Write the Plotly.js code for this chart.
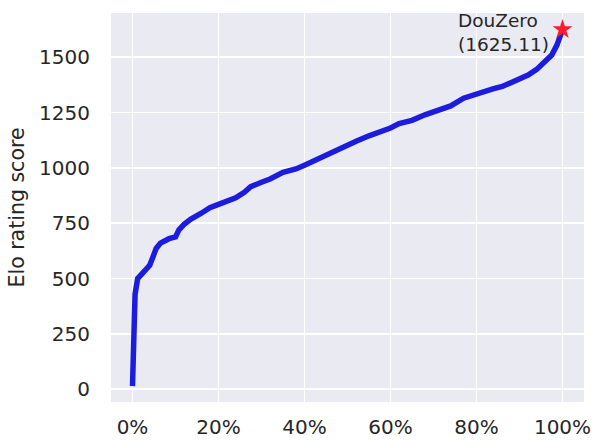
<!DOCTYPE html>
<html><head><meta charset="utf-8">
<script src="https://cdn.plot.ly/plotly-3.0.1.min.js"></script>
<style>html,body{margin:0;padding:0;background:#fff}#c{width:596px;height:440px}</style>
</head><body><div id="c"></div>
<script>
const percentile = [0, 0.3, 0.6, 1.2, 2.5, 4, 4.8, 5.5, 6.5, 8.5, 10, 10.8, 12, 13.5, 16, 18, 20, 22, 24, 26, 27.5, 30, 32, 35, 38, 40, 43.5, 47, 50, 52, 55, 58, 60, 62, 65, 68, 71, 74, 77, 80, 82, 84, 86, 88, 90, 92, 94, 96, 97.5, 98.7, 99.5, 100];
const elo = [14, 200, 430, 500, 530, 560, 600, 636, 660, 680, 688, 720, 745, 768, 795, 820, 835, 850, 865, 890, 915, 935, 950, 980, 995, 1012, 1045, 1075, 1105, 1120, 1145, 1165, 1180, 1200, 1215, 1240, 1260, 1280, 1315, 1335, 1348, 1358, 1368, 1385, 1400, 1420, 1445, 1480, 1510, 1555, 1600, 1625.11];
const starX = [100];
const starY = [1625.11];
const starLabel = 'DouZero<br>(1625.11)';
const xTicks = [0, 20, 40, 60, 80, 100];
const xTickText = ['0%', '20%', '40%', '60%', '80%', '100%'];
const yTicks = [0, 250, 500, 750, 1000, 1250, 1500];

const font = {family: 'DejaVu Sans', size: 20, color: '#262626'};
Plotly.newPlot('c', [
  {x: percentile, y: elo, mode: 'lines', line: {color: 'rgb(28,28,222)', width: 5.5}, hoverinfo: 'skip'},
  {x: starX, y: starY, mode: 'markers', marker: {symbol: 'star', color: '#ff1a2e', size: 15, line: {width: 0}}}
], {
  width: 596, height: 440,
  margin: {l: 111, r: 12, t: 13, b: 38},
  paper_bgcolor: '#ffffff', plot_bgcolor: '#EAEAF2',
  showlegend: false,
  font: font,
  xaxis: {range: [-5, 105], tickvals: xTicks, ticktext: xTickText, showgrid: true, gridcolor: '#ffffff', gridwidth: 1.6,
          zeroline: false, showline: false, ticks: 'outside', ticklen: 7, tickcolor: 'rgba(0,0,0,0)', tickfont: font},
  yaxis: {range: [-58, 1700], tickvals: yTicks, showgrid: true, gridcolor: '#ffffff', gridwidth: 1.6,
          zeroline: false, showline: false, ticks: 'outside', ticklen: 16, tickcolor: 'rgba(0,0,0,0)', tickfont: font,
          title: {text: 'Elo rating score', font: {family: 'DejaVu Sans', size: 20.5, color: '#262626'}, standoff: 8}},
  annotations: [{x: starX[0], y: starY[0], text: starLabel, showarrow: false, xanchor: 'right', yanchor: 'middle',
                 xshift: -12, yshift: -3, align: 'left', font: {family: 'DejaVu Sans', size: 18.5, color: '#262626'}}]
}, {staticPlot: true});
</script></body></html>
